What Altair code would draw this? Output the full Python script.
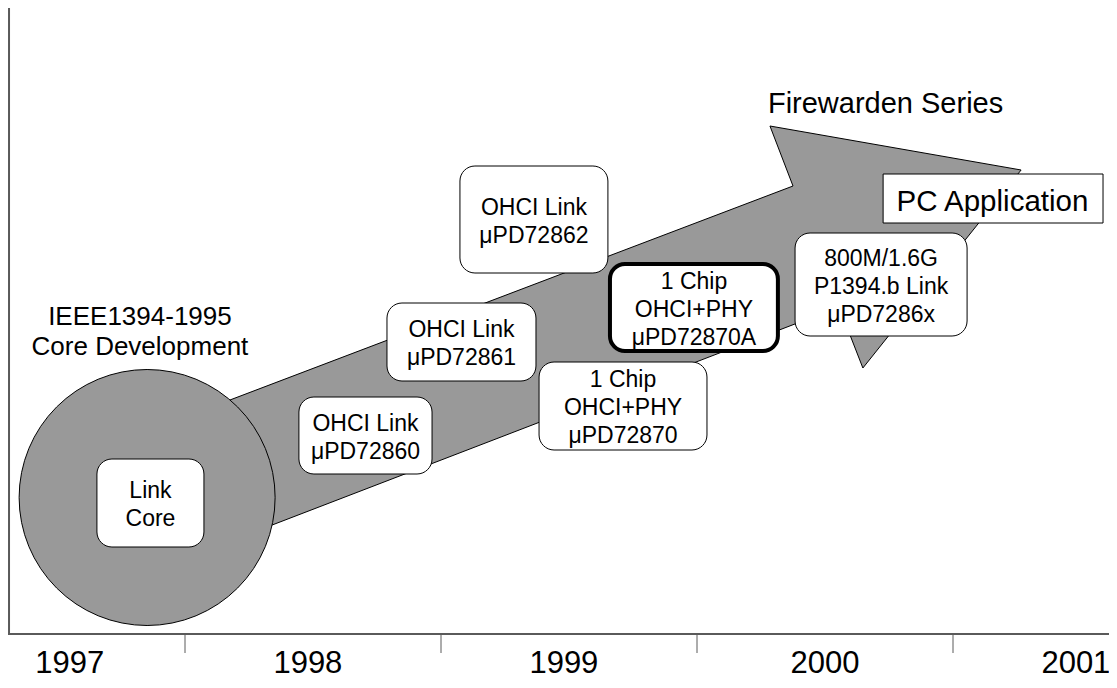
import altair as alt
import pandas as pd

FONT = "Liberation Sans"

# ---- timeline axis (x in years, y in levels above the time axis) ----
X_DOM = [1996.80859375, 2001.109375]
Y_DOM = [-46, 626]

years = ["1997", "1998", "1999", "2000", "2001"]
year_label_x = [1997.05, 1997.98, 1998.98, 2000.0, 2000.98]
year_label_y = [-39, -39, -39, -39, -39]
tick_x = [1997.5, 1998.5, 1999.5, 2000.5]

# ---- big roadmap arrow (polygon vertices) ----
arrow_x = [1997.363, 1999.875, 1999.785, 2000.766, 2000.148, 2000.055, 1997.363, 1997.363]
arrow_y = [203.6, 448, 508, 464, 266, 327, 62, 203.6]

# ---- core development disc ----
core_x = [1997.352]
core_y = [136.5]

# ---- product boxes ----
box_labels = [
    "Link\nCore",
    "OHCI Link\nμPD72860",
    "OHCI Link\nμPD72861",
    "OHCI Link\nμPD72862",
    "1 Chip\nOHCI+PHY\nμPD72870",
    "1 Chip\nOHCI+PHY\nμPD72870A",
    "800M/1.6G\nP1394.b Link\nμPD7286x",
]
box_x1 = [1997.156, 1997.945, 1998.289, 1998.574, 1998.883, 1999.160, 1999.883]
box_x2 = [1997.574, 1998.465, 1998.871, 1999.152, 1999.539, 1999.816, 2000.555]
box_y1 = [175, 237, 331, 468, 272, 370, 401]
box_y2 = [87, 160, 253, 361, 184, 283, 298]
highlight = "1 Chip\nOHCI+PHY\nμPD72870A"

# ---- free labels ----
pc_label = ["PC Application"]
pc_x1, pc_x2, pc_y1, pc_y2 = [2000.227], [2001.086], [460], [411]
pc_text_x, pc_text_y = [2000.654], [423]

series_label = ["Firewarden Series"]
series_x, series_y = [1999.777], [521]

core_label = ["IEEE1394-1995\nCore Development"]
core_label_x, core_label_y = [1997.324], [309]

LINE_H = 28

# ---- tables ----
arrow_df = pd.DataFrame({"x": arrow_x, "y": arrow_y, "i": list(range(len(arrow_x)))})
core_df = pd.DataFrame({"x": core_x, "y": core_y})
box_df = pd.DataFrame({
    "label": box_labels, "x1": box_x1, "x2": box_x2, "y1": box_y1, "y2": box_y2,
})
box_df["xc"] = (box_df["x1"] + box_df["x2"]) / 2
box_df["nl"] = box_df["label"].str.count("\n") + 1
# first-line baseline so that the text block sits centred in its box
box_df["ty"] = (box_df["y1"] + box_df["y2"]) / 2 + (box_df["nl"] - 1) * LINE_H / 2 - 9

pc_df = pd.DataFrame({"label": pc_label, "x1": pc_x1, "x2": pc_x2, "y1": pc_y1, "y2": pc_y2,
                      "tx": pc_text_x, "ty": pc_text_y})
series_df = pd.DataFrame({"label": series_label, "x": series_x, "y": series_y})
core_label_df = pd.DataFrame({"label": core_label, "x": core_label_x, "y": core_label_y})
year_df = pd.DataFrame({"year": years, "x": year_label_x, "y": year_label_y})
tick_df = pd.DataFrame({"x": tick_x, "y": [0] * len(tick_x), "y2": [-19] * len(tick_x)})
vaxis_df = pd.DataFrame({"x": [X_DOM[0] + 0.004], "y": [0], "y2": [626]})
haxis_df = pd.DataFrame({"x": [X_DOM[0]], "x2": [X_DOM[1]], "y": [0]})

xs = alt.Scale(domain=X_DOM, nice=False, zero=False)
ys = alt.Scale(domain=Y_DOM, nice=False, zero=False)
AX = "#5a5a5a"

arrow = alt.Chart(arrow_df).mark_line(
    color="black", fill="#999999", strokeWidth=1, strokeJoin="miter"
).encode(
    x=alt.X("x:Q", scale=xs, axis=None),
    y=alt.Y("y:Q", scale=ys, axis=None),
    order=alt.Order("i:Q"),
)

core = alt.Chart(core_df).mark_circle(
    size=65536, fill="#999999", opacity=1, stroke="black", strokeWidth=1
).encode(
    x=alt.X("x:Q", scale=xs, axis=None),
    y=alt.Y("y:Q", scale=ys, axis=None),
)

boxes = alt.Chart(box_df).mark_rect(
    cornerRadius=15, fill="white", stroke="black"
).encode(
    x=alt.X("x1:Q", scale=xs, axis=None), x2="x2:Q",
    y=alt.Y("y1:Q", scale=ys, axis=None), y2="y2:Q",
    strokeWidth=alt.condition(alt.datum.label == highlight, alt.value(4), alt.value(1)),
)

box_text = alt.Chart(box_df).mark_text(
    font=FONT, fontSize=23, lineHeight=LINE_H, lineBreak="\n",
    align="center", baseline="alphabetic", color="black"
).encode(
    x=alt.X("xc:Q", scale=xs, axis=None),
    y=alt.Y("ty:Q", scale=ys, axis=None),
    text="label:N",
)

pc_box = alt.Chart(pc_df).mark_rect(fill="white", stroke="black", strokeWidth=1).encode(
    x=alt.X("x1:Q", scale=xs, axis=None), x2="x2:Q",
    y=alt.Y("y1:Q", scale=ys, axis=None), y2="y2:Q",
)
pc_text = alt.Chart(pc_df).mark_text(
    font=FONT, fontSize=29.5, align="center", baseline="alphabetic", color="black"
).encode(
    x=alt.X("tx:Q", scale=xs, axis=None),
    y=alt.Y("ty:Q", scale=ys, axis=None),
    text="label:N",
)

series_text = alt.Chart(series_df).mark_text(
    font=FONT, fontSize=29, align="left", baseline="alphabetic", color="black"
).encode(
    x=alt.X("x:Q", scale=xs, axis=None),
    y=alt.Y("y:Q", scale=ys, axis=None),
    text="label:N",
)

core_text = alt.Chart(core_label_df).mark_text(
    font=FONT, fontSize=26, lineHeight=30, lineBreak="\n",
    align="center", baseline="alphabetic", color="black"
).encode(
    x=alt.X("x:Q", scale=xs, axis=None),
    y=alt.Y("y:Q", scale=ys, axis=None),
    text="label:N",
)

vaxis = alt.Chart(vaxis_df).mark_rule(color=AX, strokeWidth=2).encode(
    x=alt.X("x:Q", scale=xs, axis=None),
    y=alt.Y("y:Q", scale=ys, axis=None), y2="y2:Q",
)
haxis = alt.Chart(haxis_df).mark_rule(color=AX, strokeWidth=2).encode(
    x=alt.X("x:Q", scale=xs, axis=None), x2="x2:Q",
    y=alt.Y("y:Q", scale=ys, axis=None),
)
ticks = alt.Chart(tick_df).mark_rule(color=AX, strokeWidth=1).encode(
    x=alt.X("x:Q", scale=xs, axis=None),
    y=alt.Y("y:Q", scale=ys, axis=None), y2="y2:Q",
)
year_text = alt.Chart(year_df).mark_text(
    font=FONT, fontSize=31, align="center", baseline="alphabetic", color="black"
).encode(
    x=alt.X("x:Q", scale=xs, axis=None),
    y=alt.Y("y:Q", scale=ys, axis=None),
    text="year:N",
)

chart = alt.layer(
    arrow, core, boxes, box_text, pc_box, pc_text, series_text, core_text,
    vaxis, haxis, ticks, year_text,
).properties(
    width=1101, height=672, padding=0, autosize=alt.AutoSizeParams(type="none"),
    background="white",
).configure_view(strokeWidth=0)

chart.save("out.html", embed_options={"renderer": "svg", "actions": False})
